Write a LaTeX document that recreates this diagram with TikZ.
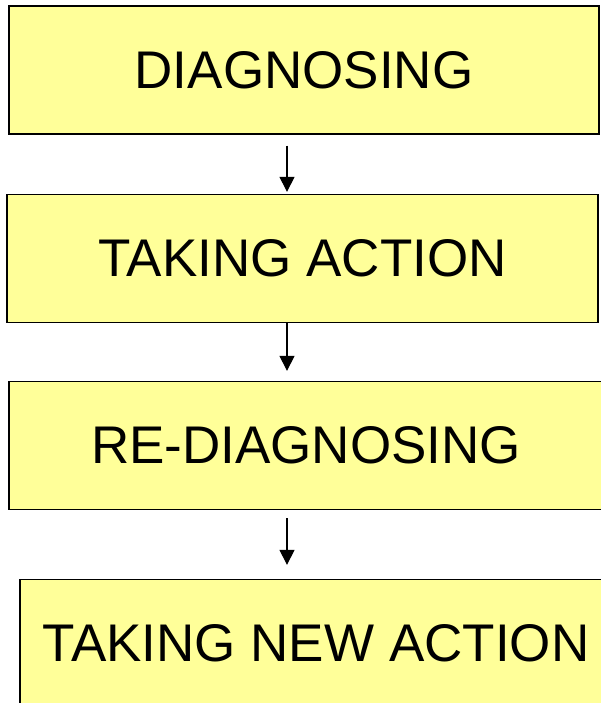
\documentclass[tikz,border=0pt]{standalone}
\usepackage{fontspec}
\setmainfont{Liberation Sans}
\usetikzlibrary{arrows.meta}
\definecolor{paleyellow}{RGB}{255,255,153}
\tikzset{
	stagebox/.style={draw=black, line width=1.3pt, fill=paleyellow, inner sep=0pt,
		minimum height=128pt, font=\fontsize{53}{60}\selectfont},
	flow/.style={line width=1.1pt, -{Triangle[length=15pt, width=15pt]}}
}

\begin{document}
\begin{tikzpicture}[x=1pt, y=-1pt]
			%%%%% START %%%%%
			
			\useasboundingbox (0, 0) rectangle (600, 703);
			
			\node[stagebox, minimum width=590pt] (diag) at (304, 70) {DIAGNOSING};
			\node[stagebox, minimum width=591pt] (take) at (302.5, 258.5) {TAKING ACTION};
			\node[stagebox, minimum width=594pt] (rediag) at (306, 445.5) {RE-DIAGNOSING};
			\node[stagebox, minimum width=592pt] (newact) at (316, 643.5) {TAKING NEW ACTION};
			
			\coordinate (axis) at (287, 0);
			
			\draw[flow, shorten <=11pt, shorten >=2pt] (diag.south -| axis) -- (take.north -| axis);
			\draw[flow, shorten >=10pt] (take.south -| axis) -- (rediag.north -| axis);
			\draw[flow, shorten <=8pt, shorten >=14pt] (rediag.south -| axis) -- (newact.north -| axis);
			
			%%%%% END %%%%%
		\end{tikzpicture}
\end{document}
